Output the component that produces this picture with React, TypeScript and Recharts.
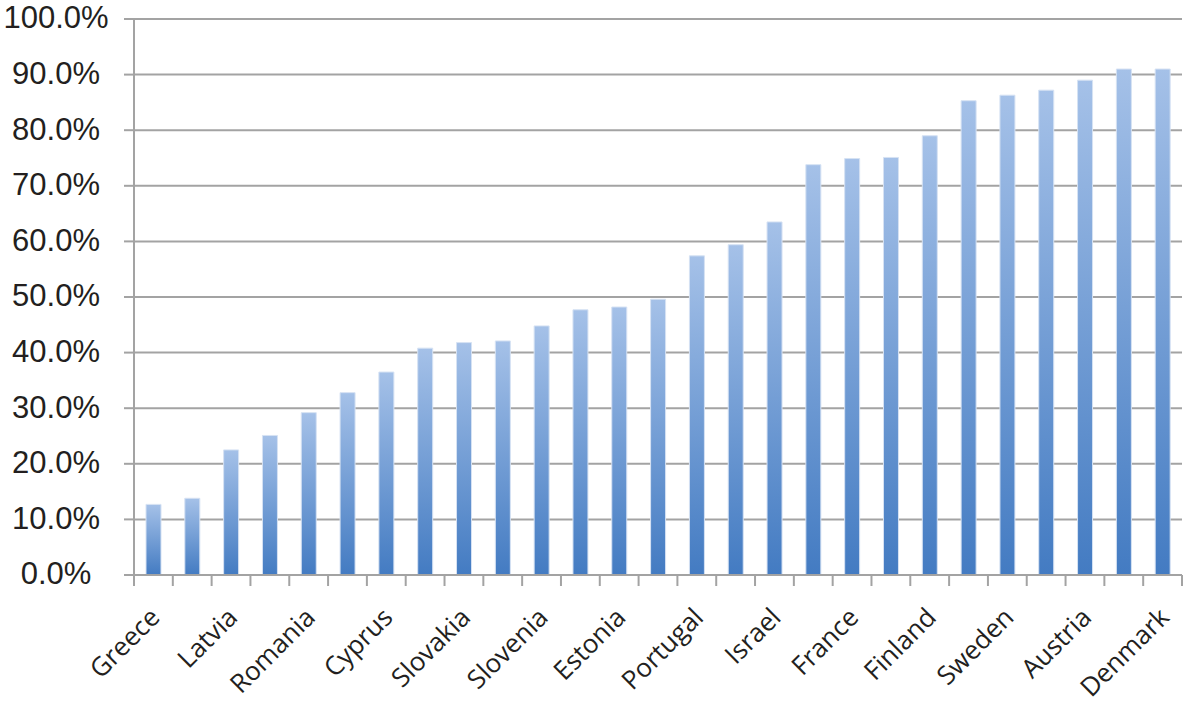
import { BarChart, Bar, XAxis, YAxis, CartesianGrid } from 'recharts'

const countries = [
  'Greece', 'Italy', 'Latvia', 'Hungary', 'Romania', 'Poland', 'Cyprus', 'Bulgaria', 'Slovakia',
  'Lithuania', 'Slovenia', 'Czech Republic', 'Estonia', 'Spain', 'Portugal', 'Belgium', 'Israel',
  'Ireland', 'France', 'Germany', 'Finland', 'Luxembourg', 'Sweden', 'Netherlands', 'Austria',
  'Norway', 'Denmark',
]
const shares = [
  12.7, 13.8, 22.5, 25.1, 29.2, 32.8, 36.5, 40.8, 41.8, 42.1, 44.8, 47.7, 48.2, 49.6, 57.4,
  59.4, 63.5, 73.8, 74.9, 75.1, 79.0, 85.3, 86.3, 87.2, 89.0, 91.0, 91.0,
]
const yTicks = [0, 10, 20, 30, 40, 50, 60, 70, 80, 90, 100]

const data = countries.map((c, i) => ({ country: c, share: shares[i] }))

const W = 1186
const H = 703
const AXIS_W = 134
const RIGHT = 4
const BAND = (W - AXIS_W - RIGHT) / countries.length
const GRID = '#a3a3a3'

function XTick({ x, y, index, payload }: any) {
  const left = x - BAND / 2
  const last = index === countries.length - 1
  const ax = x + 8
  const ay = y + 44
  return (
    <g>
      <line x1={left} x2={left} y1={y} y2={y + 11} stroke={GRID} strokeWidth={2} />
      {last && <line x1={x + BAND / 2} x2={x + BAND / 2} y1={y} y2={y + 11} stroke={GRID} strokeWidth={2} />}
      {index % 2 === 0 && (
        <text
          x={ax}
          y={ay}
          textAnchor="end"
          transform={`rotate(-45 ${ax} ${ay})`}
          fontFamily="'Open Sans', sans-serif"
          fontSize={26}
          fill="#231f20"
        >
          {payload.value}
        </text>
      )}
    </g>
  )
}

function YTick({ y, payload }: any) {
  return (
    <text x={56} y={y} dy="0.3em" textAnchor="middle" fontFamily="'Liberation Sans', Arial, sans-serif" fontSize={31} fill="#231f20">
      {`${payload.value.toFixed(1)}%`}
    </text>
  )
}

export default function App() {
  return (
    <div style={{ position: 'absolute', left: 0, top: 0, background: '#fff' }}>
      <BarChart width={W} height={H} data={data} margin={{ top: 19, right: RIGHT, bottom: 0, left: 0 }}>
        <defs>
          <linearGradient id="barFill" x1="0" y1="0" x2="0" y2="1">
            <stop offset="0%" stopColor="#a5c1e8" />
            <stop offset="100%" stopColor="#437bc2" />
          </linearGradient>
        </defs>
        <CartesianGrid vertical={false} stroke={GRID} strokeWidth={2} />
        <XAxis
          dataKey="country"
          interval={0}
          height={128}
          tickSize={0}
          tickMargin={0}
          tickLine={false}
          axisLine={{ stroke: GRID, strokeWidth: 2 }}
          tick={<XTick />}
        />
        <YAxis
          width={AXIS_W}
          domain={[0, 100]}
          ticks={yTicks}
          interval={0}
          tickSize={10}
          tickLine={{ stroke: GRID, strokeWidth: 2 }}
          axisLine={{ stroke: GRID, strokeWidth: 2 }}
          tick={<YTick />}
        />
        <Bar
          dataKey="share"
          barSize={15}
          fill="url(#barFill)"
          stroke="#d6e2f3"
          strokeWidth={1}
          isAnimationActive={false}
        />
      </BarChart>
    </div>
  )
}
